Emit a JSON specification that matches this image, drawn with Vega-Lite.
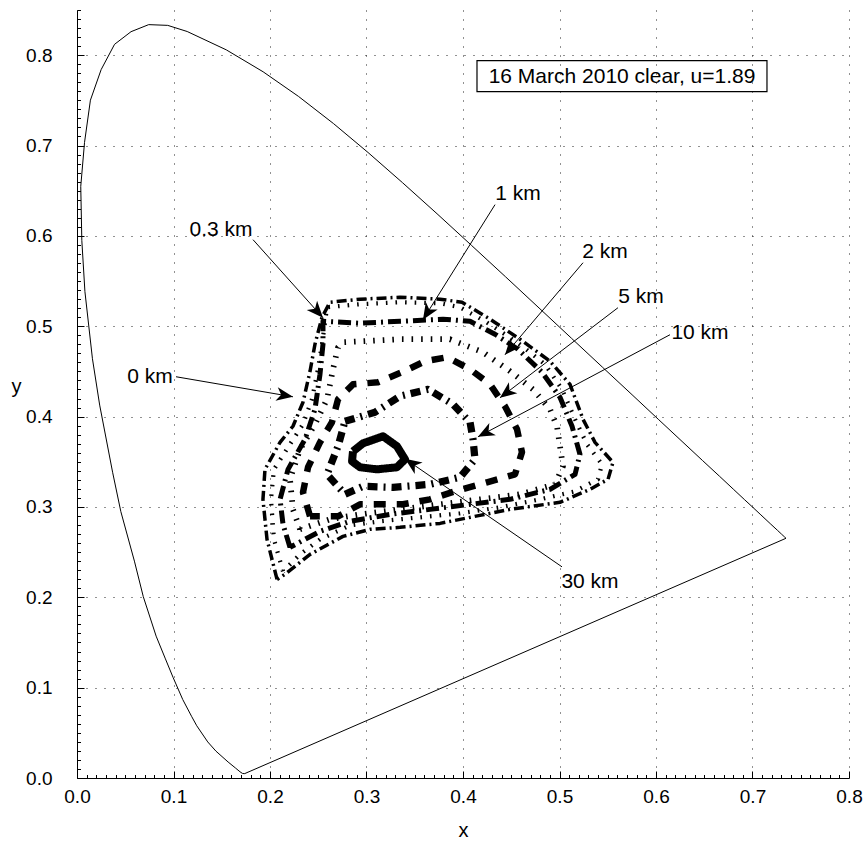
{
"$schema":"https://vega.github.io/schema/vega-lite/v6.json",
"autosize":{"type":"none"},
"padding":{"left":77,"top":10,"right":15,"bottom":70},
"width":772,"height":768,
"config":{"view":{"stroke":null},"font":"Liberation Sans",
 "axis":{"labelFont":"Liberation Sans","titleFont":"Liberation Sans","labelColor":"#000","titleColor":"#000","titleFontWeight":"normal","labelFontSize":19,"titleFontSize":20,"domainColor":"#000","tickColor":"#000","domainWidth":1,"tickWidth":1}},
"datasets":{
 "locus":[
  {"o":1,"x":0.1741,"y":0.0050},{"o":2,"x":0.1733,"y":0.0048},{"o":3,"x":0.1714,"y":0.0051},{"o":4,"x":0.1689,"y":0.0069},{"o":5,"x":0.1644,"y":0.0109},{"o":6,"x":0.1566,"y":0.0177},{"o":7,"x":0.1440,"y":0.0297},{"o":8,"x":0.1355,"y":0.0399},{"o":9,"x":0.1241,"y":0.0578},{"o":10,"x":0.1187,"y":0.0683},{"o":11,"x":0.1096,"y":0.0868},{"o":12,"x":0.0996,"y":0.1112},{"o":13,"x":0.0913,"y":0.1327},{"o":14,"x":0.0820,"y":0.1570},{"o":15,"x":0.0687,"y":0.2007},{"o":16,"x":0.0595,"y":0.2400},{"o":17,"x":0.0454,"y":0.2950},{"o":18,"x":0.0369,"y":0.3384},{"o":19,"x":0.0235,"y":0.4127},{"o":20,"x":0.0160,"y":0.4640},{"o":21,"x":0.0082,"y":0.5384},{"o":22,"x":0.0050,"y":0.5950},{"o":23,"x":0.0039,"y":0.6548},{"o":24,"x":0.0078,"y":0.7034},{"o":25,"x":0.0139,"y":0.7502},{"o":26,"x":0.0250,"y":0.7840},{"o":27,"x":0.0389,"y":0.8120},{"o":28,"x":0.0560,"y":0.8260},{"o":29,"x":0.0743,"y":0.8338},{"o":30,"x":0.0940,"y":0.8330},{"o":31,"x":0.1142,"y":0.8262},{"o":32,"x":0.1547,"y":0.8059},{"o":33,"x":0.1929,"y":0.7816},{"o":34,"x":0.2296,"y":0.7543},{"o":35,"x":0.2658,"y":0.7243},{"o":36,"x":0.3016,"y":0.6923},{"o":37,"x":0.3373,"y":0.6589},{"o":38,"x":0.3731,"y":0.6245},{"o":39,"x":0.4087,"y":0.5896},{"o":40,"x":0.4441,"y":0.5547},{"o":41,"x":0.4788,"y":0.5202},{"o":42,"x":0.5125,"y":0.4866},{"o":43,"x":0.5448,"y":0.4544},{"o":44,"x":0.5752,"y":0.4242},{"o":45,"x":0.6029,"y":0.3965},{"o":46,"x":0.6270,"y":0.3725},{"o":47,"x":0.6482,"y":0.3514},{"o":48,"x":0.6658,"y":0.3340},{"o":49,"x":0.6801,"y":0.3197},{"o":50,"x":0.6915,"y":0.3083},{"o":51,"x":0.7006,"y":0.2993},{"o":52,"x":0.7079,"y":0.2920},{"o":53,"x":0.7190,"y":0.2809},{"o":54,"x":0.7260,"y":0.2740},{"o":55,"x":0.7300,"y":0.2700},{"o":56,"x":0.7334,"y":0.2666},{"o":57,"x":0.7347,"y":0.2653},{"o":58,"x":0.1741,"y":0.0050}
 ],
 "contours":[
  {"km":"0 km","o":1,"x":0.2073,"y":0.2198},{"km":"0 km","o":2,"x":0.1969,"y":0.2641},{"km":"0 km","o":3,"x":0.1927,"y":0.3084},{"km":"0 km","o":4,"x":0.1948,"y":0.3416},{"km":"0 km","o":5,"x":0.2104,"y":0.3715},{"km":"0 km","o":6,"x":0.2238,"y":0.3893},{"km":"0 km","o":7,"x":0.2342,"y":0.4159},{"km":"0 km","o":8,"x":0.2415,"y":0.4502},{"km":"0 km","o":9,"x":0.2466,"y":0.4801},{"km":"0 km","o":10,"x":0.2539,"y":0.5100},{"km":"0 km","o":11,"x":0.2622,"y":0.5266},{"km":"0 km","o":12,"x":0.2933,"y":0.5299},{"km":"0 km","o":13,"x":0.3347,"y":0.5321},{"km":"0 km","o":14,"x":0.3762,"y":0.5299},{"km":"0 km","o":15,"x":0.3990,"y":0.5266},{"km":"0 km","o":16,"x":0.4280,"y":0.5078},{"km":"0 km","o":17,"x":0.4591,"y":0.4856},{"km":"0 km","o":18,"x":0.4902,"y":0.4612},{"km":"0 km","o":19,"x":0.5109,"y":0.4357},{"km":"0 km","o":20,"x":0.5244,"y":0.3970},{"km":"0 km","o":21,"x":0.5368,"y":0.3715},{"km":"0 km","o":22,"x":0.5554,"y":0.3494},{"km":"0 km","o":23,"x":0.5503,"y":0.3306},{"km":"0 km","o":24,"x":0.5316,"y":0.3195},{"km":"0 km","o":25,"x":0.5005,"y":0.3051},{"km":"0 km","o":26,"x":0.4487,"y":0.2973},{"km":"0 km","o":27,"x":0.4176,"y":0.2907},{"km":"0 km","o":28,"x":0.3762,"y":0.2818},{"km":"0 km","o":29,"x":0.3347,"y":0.2774},{"km":"0 km","o":30,"x":0.3036,"y":0.2752},{"km":"0 km","o":31,"x":0.2756,"y":0.2674},{"km":"0 km","o":32,"x":0.2415,"y":0.2475},{"km":"0 km","o":33,"x":0.2155,"y":0.2254},{"km":"0 km","o":34,"x":0.2073,"y":0.2198},
  {"km":"0.3 km","o":1,"x":0.2135,"y":0.2287},{"km":"0.3 km","o":2,"x":0.2041,"y":0.2641},{"km":"0.3 km","o":3,"x":0.2010,"y":0.3084},{"km":"0.3 km","o":4,"x":0.2041,"y":0.3416},{"km":"0.3 km","o":5,"x":0.2207,"y":0.3693},{"km":"0.3 km","o":6,"x":0.2342,"y":0.3915},{"km":"0.3 km","o":7,"x":0.2435,"y":0.4192},{"km":"0.3 km","o":8,"x":0.2497,"y":0.4524},{"km":"0.3 km","o":9,"x":0.2539,"y":0.4801},{"km":"0.3 km","o":10,"x":0.2591,"y":0.5210},{"km":"0.3 km","o":11,"x":0.2933,"y":0.5244},{"km":"0.3 km","o":12,"x":0.3347,"y":0.5266},{"km":"0.3 km","o":13,"x":0.3762,"y":0.5255},{"km":"0.3 km","o":14,"x":0.3969,"y":0.5210},{"km":"0.3 km","o":15,"x":0.4228,"y":0.5055},{"km":"0.3 km","o":16,"x":0.4560,"y":0.4823},{"km":"0.3 km","o":17,"x":0.4850,"y":0.4579},{"km":"0.3 km","o":18,"x":0.5026,"y":0.4302},{"km":"0.3 km","o":19,"x":0.5161,"y":0.3970},{"km":"0.3 km","o":20,"x":0.5285,"y":0.3693},{"km":"0.3 km","o":21,"x":0.5440,"y":0.3472},{"km":"0.3 km","o":22,"x":0.5399,"y":0.3306},{"km":"0.3 km","o":23,"x":0.5161,"y":0.3173},{"km":"0.3 km","o":24,"x":0.4798,"y":0.3084},{"km":"0.3 km","o":25,"x":0.4383,"y":0.2996},{"km":"0.3 km","o":26,"x":0.3969,"y":0.2929},{"km":"0.3 km","o":27,"x":0.3554,"y":0.2885},{"km":"0.3 km","o":28,"x":0.3140,"y":0.2841},{"km":"0.3 km","o":29,"x":0.2829,"y":0.2796},{"km":"0.3 km","o":30,"x":0.2518,"y":0.2641},{"km":"0.3 km","o":31,"x":0.2311,"y":0.2475},{"km":"0.3 km","o":32,"x":0.2135,"y":0.2287},
  {"km":"1 km","o":1,"x":0.2207,"y":0.2553},{"km":"1 km","o":2,"x":0.2135,"y":0.2807},{"km":"1 km","o":3,"x":0.2104,"y":0.3084},{"km":"1 km","o":4,"x":0.2187,"y":0.3416},{"km":"1 km","o":5,"x":0.2363,"y":0.3749},{"km":"1 km","o":6,"x":0.2466,"y":0.4081},{"km":"1 km","o":7,"x":0.2518,"y":0.4468},{"km":"1 km","o":8,"x":0.2549,"y":0.4801},{"km":"1 km","o":9,"x":0.2549,"y":0.5055},{"km":"1 km","o":10,"x":0.2933,"y":0.5033},{"km":"1 km","o":11,"x":0.3347,"y":0.5055},{"km":"1 km","o":12,"x":0.3793,"y":0.5078},{"km":"1 km","o":13,"x":0.4073,"y":0.5055},{"km":"1 km","o":14,"x":0.4332,"y":0.4911},{"km":"1 km","o":15,"x":0.4570,"y":0.4745},{"km":"1 km","o":16,"x":0.4819,"y":0.4491},{"km":"1 km","o":17,"x":0.5005,"y":0.4214},{"km":"1 km","o":18,"x":0.5130,"y":0.3893},{"km":"1 km","o":19,"x":0.5212,"y":0.3583},{"km":"1 km","o":20,"x":0.5161,"y":0.3361},{"km":"1 km","o":21,"x":0.4902,"y":0.3195},{"km":"1 km","o":22,"x":0.4487,"y":0.3084},{"km":"1 km","o":23,"x":0.4073,"y":0.3029},{"km":"1 km","o":24,"x":0.3658,"y":0.2973},{"km":"1 km","o":25,"x":0.3244,"y":0.2918},{"km":"1 km","o":26,"x":0.2829,"y":0.2841},{"km":"1 km","o":27,"x":0.2518,"y":0.2730},{"km":"1 km","o":28,"x":0.2207,"y":0.2553},
  {"km":"2 km","o":1,"x":0.2311,"y":0.2752},{"km":"2 km","o":2,"x":0.2238,"y":0.2973},{"km":"2 km","o":3,"x":0.2207,"y":0.3306},{"km":"2 km","o":4,"x":0.2311,"y":0.3638},{"km":"2 km","o":5,"x":0.2466,"y":0.3915},{"km":"2 km","o":6,"x":0.2591,"y":0.4192},{"km":"2 km","o":7,"x":0.2653,"y":0.4524},{"km":"2 km","o":8,"x":0.2705,"y":0.4767},{"km":"2 km","o":9,"x":0.2756,"y":0.4823},{"km":"2 km","o":10,"x":0.3347,"y":0.4856},{"km":"2 km","o":11,"x":0.3865,"y":0.4856},{"km":"2 km","o":12,"x":0.4207,"y":0.4712},{"km":"2 km","o":13,"x":0.4487,"y":0.4502},{"km":"2 km","o":14,"x":0.4725,"y":0.4302},{"km":"2 km","o":15,"x":0.4902,"y":0.4081},{"km":"2 km","o":16,"x":0.4974,"y":0.3893},{"km":"2 km","o":17,"x":0.5036,"y":0.3450},{"km":"2 km","o":18,"x":0.4953,"y":0.3250},{"km":"2 km","o":19,"x":0.4591,"y":0.3140},{"km":"2 km","o":20,"x":0.4176,"y":0.3084},{"km":"2 km","o":21,"x":0.3762,"y":0.3029},{"km":"2 km","o":22,"x":0.3347,"y":0.2973},{"km":"2 km","o":23,"x":0.2933,"y":0.2918},{"km":"2 km","o":24,"x":0.2622,"y":0.2863},{"km":"2 km","o":25,"x":0.2311,"y":0.2752},
  {"km":"5 km","o":1,"x":0.2415,"y":0.2896},{"km":"5 km","o":2,"x":0.2342,"y":0.3162},{"km":"5 km","o":3,"x":0.2394,"y":0.3439},{"km":"5 km","o":4,"x":0.2518,"y":0.3715},{"km":"5 km","o":5,"x":0.2642,"y":0.3937},{"km":"5 km","o":6,"x":0.2705,"y":0.4192},{"km":"5 km","o":7,"x":0.2860,"y":0.4357},{"km":"5 km","o":8,"x":0.3119,"y":0.4380},{"km":"5 km","o":9,"x":0.3368,"y":0.4491},{"km":"5 km","o":10,"x":0.3606,"y":0.4612},{"km":"5 km","o":11,"x":0.3834,"y":0.4657},{"km":"5 km","o":12,"x":0.4073,"y":0.4524},{"km":"5 km","o":13,"x":0.4280,"y":0.4357},{"km":"5 km","o":14,"x":0.4435,"y":0.4114},{"km":"5 km","o":15,"x":0.4560,"y":0.3859},{"km":"5 km","o":16,"x":0.4611,"y":0.3605},{"km":"5 km","o":17,"x":0.4539,"y":0.3361},{"km":"5 km","o":18,"x":0.4249,"y":0.3273},{"km":"5 km","o":19,"x":0.3917,"y":0.3173},{"km":"5 km","o":20,"x":0.3658,"y":0.3084},{"km":"5 km","o":21,"x":0.3378,"y":0.3029},{"km":"5 km","o":22,"x":0.3140,"y":0.3029},{"km":"5 km","o":23,"x":0.2933,"y":0.3029},{"km":"5 km","o":24,"x":0.2705,"y":0.2896},{"km":"5 km","o":25,"x":0.2415,"y":0.2896},
  {"km":"10 km","o":1,"x":0.2777,"y":0.3948},{"km":"10 km","o":2,"x":0.3088,"y":0.4048},{"km":"10 km","o":3,"x":0.3347,"y":0.4225},{"km":"10 km","o":4,"x":0.3637,"y":0.4302},{"km":"10 km","o":5,"x":0.3896,"y":0.4136},{"km":"10 km","o":6,"x":0.4073,"y":0.3937},{"km":"10 km","o":7,"x":0.4104,"y":0.3749},{"km":"10 km","o":8,"x":0.4124,"y":0.3527},{"km":"10 km","o":9,"x":0.3969,"y":0.3328},{"km":"10 km","o":10,"x":0.3658,"y":0.3250},{"km":"10 km","o":11,"x":0.3275,"y":0.3217},{"km":"10 km","o":12,"x":0.2964,"y":0.3228},{"km":"10 km","o":13,"x":0.2777,"y":0.3140},{"km":"10 km","o":14,"x":0.2591,"y":0.3361},{"km":"10 km","o":15,"x":0.2705,"y":0.3671},{"km":"10 km","o":16,"x":0.2777,"y":0.3948},
  {"km":"30 km","o":1,"x":0.2860,"y":0.3616},{"km":"30 km","o":2,"x":0.2964,"y":0.3704},{"km":"30 km","o":3,"x":0.3171,"y":0.3782},{"km":"30 km","o":4,"x":0.3316,"y":0.3671},{"km":"30 km","o":5,"x":0.3399,"y":0.3527},{"km":"30 km","o":6,"x":0.3316,"y":0.3439},{"km":"30 km","o":7,"x":0.3109,"y":0.3416},{"km":"30 km","o":8,"x":0.2933,"y":0.3439},{"km":"30 km","o":9,"x":0.2850,"y":0.3505},{"km":"30 km","o":10,"x":0.2860,"y":0.3616}
 ],
 "notes":[
  {"label":"0 km","lx":0.0756,"ly":0.4441,"tx":0.1026,"ty":0.4441,"hx":0.2238,"hy":0.4219},
  {"label":"0.3 km","lx":0.1492,"ly":0.6069,"tx":0.1824,"ty":0.5958,"hx":0.2549,"hy":0.5094},
  {"label":"1 km","lx":0.4570,"ly":0.6467,"tx":0.4332,"ty":0.6346,"hx":0.3585,"hy":0.5072},
  {"label":"2 km","lx":0.5472,"ly":0.5825,"tx":0.5244,"ty":0.5703,"hx":0.4435,"hy":0.4684},
  {"label":"5 km","lx":0.5845,"ly":0.5327,"tx":0.5606,"ty":0.5205,"hx":0.4383,"hy":0.4208},
  {"label":"10 km","lx":0.6456,"ly":0.4928,"tx":0.6145,"ty":0.4906,"hx":0.4155,"hy":0.3776},
  {"label":"30 km","lx":0.5316,"ly":0.2171,"tx":0.5026,"ty":0.2337,"hx":0.3399,"hy":0.3533}
 ],
 "box":[{"text":"16 March 2010 clear, u=1.89","bx1":0.4145,"bx2":0.7150,"by1":0.7940,"by2":0.7597,"cx":0.5648,"cy":0.7763}]
},
"layer":[
 {"data":{"name":"locus"},
  "mark":{"type":"line","color":"#000","strokeWidth":1},
  "encoding":{
   "x":{"field":"x","type":"quantitative","scale":{"domain":[0,0.8],"nice":false,"zero":false},
    "axis":{"title":"x","titleX":386,"titleY":52,"titleBaseline":"middle","titleAlign":"center","tickCount":500,
     "values":[0,0.01,0.02,0.03,0.04,0.05,0.06,0.07,0.08,0.09,0.1,0.11,0.12,0.13,0.14,0.15,0.16,0.17,0.18,0.19,0.2,0.21,0.22,0.23,0.24,0.25,0.26,0.27,0.28,0.29,0.3,0.31,0.32,0.33,0.34,0.35,0.36,0.37,0.38,0.39,0.4,0.41,0.42,0.43,0.44,0.45,0.46,0.47,0.48,0.49,0.5,0.51,0.52,0.53,0.54,0.55,0.56,0.57,0.58,0.59,0.6,0.61,0.62,0.63,0.64,0.65,0.66,0.67,0.68,0.69,0.7,0.71,0.72,0.73,0.74,0.75,0.76,0.77,0.78,0.79,0.8],
     "labelExpr":"abs(datum.value*10-round(datum.value*10))<0.001 ? format(datum.value,'.1f') : ''",
     "labelOverlap":false,"labelFlush":false,"labelPadding":16,
     "grid":true,"gridDash":[1,8],"gridColor":"#222","gridWidth":1,
     "gridOpacity":{"condition":{"test":"abs(datum.value*10-round(datum.value*10))<0.001","value":1},"value":0},
     "tickSize":{"condition":{"test":"abs(datum.value*10-round(datum.value*10))<0.001","value":-7},"value":-3.5}}},
   "y":{"field":"y","type":"quantitative","scale":{"domain":[0,0.85],"nice":false,"zero":false},
    "axis":{"title":"y","titleAngle":0,"titleX":-61,"titleY":376,"titleBaseline":"middle","titleAlign":"center","tickCount":500,
     "values":[0,0.01,0.02,0.03,0.04,0.05,0.06,0.07,0.08,0.09,0.1,0.11,0.12,0.13,0.14,0.15,0.16,0.17,0.18,0.19,0.2,0.21,0.22,0.23,0.24,0.25,0.26,0.27,0.28,0.29,0.3,0.31,0.32,0.33,0.34,0.35,0.36,0.37,0.38,0.39,0.4,0.41,0.42,0.43,0.44,0.45,0.46,0.47,0.48,0.49,0.5,0.51,0.52,0.53,0.54,0.55,0.56,0.57,0.58,0.59,0.6,0.61,0.62,0.63,0.64,0.65,0.66,0.67,0.68,0.69,0.7,0.71,0.72,0.73,0.74,0.75,0.76,0.77,0.78,0.79,0.8,0.81,0.82,0.83,0.84,0.85],
     "labelExpr":"abs(datum.value*10-round(datum.value*10))<0.001 ? format(datum.value,'.1f') : ''",
     "labelOverlap":false,"labelFlush":false,"labelPadding":32,
     "grid":true,"gridDash":[1,8],"gridColor":"#222","gridWidth":1,
     "gridOpacity":{"condition":{"test":"abs(datum.value*10-round(datum.value*10))<0.001","value":1},"value":0},
     "tickSize":{"condition":{"test":"abs(datum.value*10-round(datum.value*10))<0.001","value":-7},"value":-3.5}}},
   "order":{"field":"o","type":"quantitative"}}},
 {"data":{"name":"contours"},
  "mark":{"type":"line","color":"#000","strokeCap":"butt","strokeJoin":"round"},
  "encoding":{
   "x":{"field":"x","type":"quantitative"},
   "y":{"field":"y","type":"quantitative"},
   "order":{"field":"o","type":"quantitative"},
   "detail":{"field":"km","type":"nominal"},
   "strokeDash":{"field":"km","type":"nominal","legend":null,"scale":{"domain":["0 km","0.3 km","1 km","2 km","5 km","10 km","30 km"],"range":[[10,4,2,4],[1.6,8],[13,5,2,5],[1.6,8],[12,11],[10,6,2,6],[1,0]]}},
   "strokeWidth":{"field":"km","type":"ordinal","legend":null,"scale":{"domain":["0 km","0.3 km","1 km","2 km","5 km","10 km","30 km"],"range":[3.5,8,3.5,8,6.5,6,6]}}}},
 {"data":{"name":"notes"},
  "mark":{"type":"rule","color":"#000","strokeWidth":1},
  "encoding":{"x":{"field":"tx","type":"quantitative"},"y":{"field":"ty","type":"quantitative"},"x2":{"field":"hx"},"y2":{"field":"hy"}}},
 {"data":{"name":"notes"},
  "transform":[{"calculate":"atan2((datum.ty-datum.hy)*903,(datum.hx-datum.tx)*965)*180/PI","as":"ang"}],
  "mark":{"type":"point","shape":"M0,0L-1,-0.42L-0.72,0L-1,0.42Z","filled":true,"color":"#000","size":1100,"opacity":1,"strokeWidth":0},
  "encoding":{"x":{"field":"hx","type":"quantitative"},"y":{"field":"hy","type":"quantitative"},"angle":{"field":"ang","type":"quantitative","scale":null}}},
 {"data":{"name":"notes"},
  "mark":{"type":"text","fontSize":21,"font":"Liberation Sans","align":"center","baseline":"middle","color":"#000"},
  "encoding":{"x":{"field":"lx","type":"quantitative"},"y":{"field":"ly","type":"quantitative"},"text":{"field":"label"}}},
 {"data":{"name":"box"},
  "mark":{"type":"rect","filled":false,"color":"#000","strokeWidth":1.2},
  "encoding":{"x":{"field":"bx1","type":"quantitative"},"x2":{"field":"bx2"},"y":{"field":"by1","type":"quantitative"},"y2":{"field":"by2"}}},
 {"data":{"name":"box"},
  "mark":{"type":"text","fontSize":21,"font":"Liberation Sans","align":"center","baseline":"middle","color":"#000"},
  "encoding":{"x":{"field":"cx","type":"quantitative"},"y":{"field":"cy","type":"quantitative"},"text":{"field":"text"}}}
]
}
